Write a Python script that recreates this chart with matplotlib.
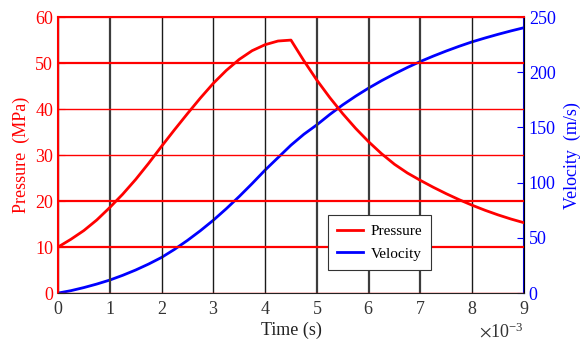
import matplotlib
matplotlib.use("Agg")
import matplotlib.pyplot as plt
from matplotlib.ticker import ScalarFormatter, MultipleLocator

plt.rcParams['font.family'] = ['Liberation Serif', 'DejaVu Serif']
plt.rcParams['mathtext.fontset'] = 'stix'
plt.rcParams['font.size'] = 13

# time in seconds, 0.25 ms steps
time_s = [i * 0.25e-3 for i in range(37)]

pressure_mpa = [10.0, 11.7, 13.6, 15.9, 18.6, 21.5, 24.7, 28.2, 31.9, 35.5,
                39.0, 42.4, 45.6, 48.4, 50.8, 52.7, 54.0, 54.8, 55.0,
                50.5, 46.3, 42.5, 39.0, 35.8, 32.9, 30.3, 28.0, 26.1, 24.5,
                23.0, 21.6, 20.3, 19.1, 18.0, 17.0, 16.1, 15.3]

velocity_ms = [0.0, 2.2, 5.0, 8.2, 11.8, 16.1, 20.9, 26.3, 32.3, 39.6,
               47.7, 56.5, 66.0, 76.4, 87.5, 99.2, 111.4, 122.7, 134.0,
               143.9, 152.4, 161.8, 170.5, 178.4, 185.7, 192.4, 198.6, 204.4,
               209.8, 214.7, 219.3, 223.6, 227.6, 231.1, 234.4, 237.5, 240.4]

# heavier grid lines at these positions
heavy_x = [1, 5, 6, 7]
heavy_y = [10, 20, 50, 60]

fig = plt.figure(figsize=(5.81, 3.42), dpi=100)
ax = fig.add_axes([0.0998, 0.143, 0.802, 0.807])
ax2 = ax.twinx()

l1, = ax.plot(time_s, pressure_mpa, color='red', lw=2, label='Pressure',
              solid_joinstyle='round')
l2, = ax2.plot(time_s, velocity_ms, color='blue', lw=2, label='Velocity',
               solid_joinstyle='round')

ax.set_xlim(0, 9e-3)
ax.set_ylim(0, 60)
ax2.set_ylim(0, 250)
ax.xaxis.set_major_locator(MultipleLocator(1e-3))
ax.yaxis.set_major_locator(MultipleLocator(10))
ax2.yaxis.set_major_locator(MultipleLocator(50))

fmt = ScalarFormatter(useMathText=True)
fmt.set_powerlimits((-2, 2))
ax.xaxis.set_major_formatter(fmt)

# grid: dark verticals, red horizontals, uneven weights
ax.grid(True)
for loc, gl in zip(ax.get_xticks(), ax.get_xgridlines()):
    if round(loc * 1e3) in heavy_x:
        gl.set_color('#3c3c3c')
        gl.set_linewidth(1.6)
    else:
        gl.set_color('#1a1a1a')
        gl.set_linewidth(1.0)
for loc, gl in zip(ax.get_yticks(), ax.get_ygridlines()):
    gl.set_color('red')
    gl.set_linewidth(1.6 if round(loc) in heavy_y else 1.0)

ax.tick_params(axis='x', direction='in', colors='#333333', length=0, pad=6)
ax.tick_params(axis='y', direction='in', colors='red', length=5)
ax2.tick_params(axis='y', direction='in', colors='blue', length=5)

for side in ['left', 'top']:
    ax.spines[side].set_color('red')
    ax.spines[side].set_linewidth(1.5)
ax.spines['bottom'].set_color('#222222')
ax2.spines['right'].set_color('blue')
ax2.spines['right'].set_linewidth(1.5)
ax2.spines['left'].set_visible(False)
ax2.spines['top'].set_visible(False)
ax2.spines['bottom'].set_visible(False)

ax.set_xlabel('Time (s)', color='#222222', fontsize=13, labelpad=2)
ax.set_ylabel('Pressure  (MPa)', color='red', fontsize=13, labelpad=4)
ax2.set_ylabel('Velocity  (m/s)', color='blue', fontsize=13, labelpad=6)
ax.xaxis.get_offset_text().set_color('#333333')

leg = ax.legend([l1, l2], ['Pressure', 'Velocity'], loc='upper left',
                bbox_to_anchor=(0.579, 0.283), borderaxespad=0,
                fancybox=False, edgecolor='#333333', framealpha=1,
                fontsize=11, handlelength=1.7, handletextpad=0.5,
                borderpad=0.6, labelspacing=0.6)
leg.get_frame().set_linewidth(0.8)
leg.set_zorder(10)
ax.set_zorder(ax2.get_zorder() + 1)
ax.patch.set_visible(False)

fig.savefig('out.png', dpi=100)
